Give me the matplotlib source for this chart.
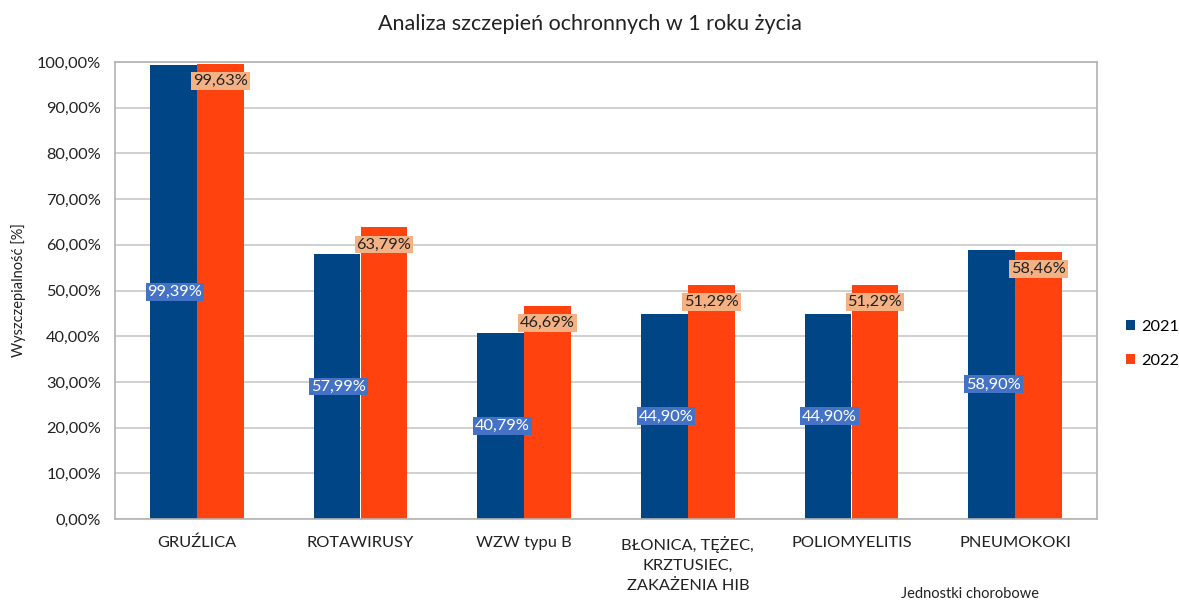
import numpy as np
import matplotlib.pyplot as plt
from matplotlib.ticker import FuncFormatter

plt.rcParams['font.family'] = ['Lato', 'DejaVu Sans']

# data
categories = ['GRUŹLICA', 'ROTAWIRUSY', 'WZW typu B',
              'BŁONICA, TĘŻEC,\nKRZTUSIEC,\nZAKAŻENIA HIB',
              'POLIOMYELITIS', 'PNEUMOKOKI']
values_2021 = [99.39, 57.99, 40.79, 44.90, 44.90, 58.90]
values_2022 = [99.63, 63.79, 46.69, 51.29, 51.29, 58.46]
years = ['2021', '2022']

blue = '#004586'
orange = '#ff420e'

fig = plt.figure(figsize=(11.79, 6.03), dpi=100)
ax = fig.add_axes([115 / 1179, 1 - 519 / 603, (1097 - 115) / 1179, (519 - 62) / 603])

x = np.arange(len(categories))
w = 0.287
ax.bar(x - w / 2, values_2021, w, color=blue, label=years[0], zorder=2)
ax.bar(x + w / 2, values_2022, w, color=orange, label=years[1], zorder=2)

def pl(v):
    return f'{v:.2f}%'.replace('.', ',')

# labels: 2021 centred in bar, 2022 just inside the top
for xi, v in zip(x - w / 2, values_2021):
    ax.text(xi + 0.01, v / 2, pl(v), ha='center', va='center', fontsize=11.8,
            color='white', zorder=3,
            bbox=dict(boxstyle='square,pad=0.12', fc='#4472c4', ec='none'))
for xi, v in zip(x + w / 2, values_2022):
    ax.annotate(pl(v), (xi, v), xytext=(0, -17), textcoords='offset pixels',
                ha='center', va='center', fontsize=11.8, color='#222222', zorder=3,
                bbox=dict(boxstyle='square,pad=0.12', fc='#f4b183', ec='none'))

ax.set_xlim(-0.5, len(categories) - 0.5)
ax.set_ylim(0, 100)
ax.set_yticks(np.arange(0, 101, 10))
ax.yaxis.set_major_formatter(FuncFormatter(lambda v, p: pl(v)))
ax.set_xticks(x)
ax.set_xticklabels(categories, fontsize=11.8, color='#222222', linespacing=1.55, va='top')
ax.tick_params(axis='both', length=0, labelsize=11.8, labelcolor='#222222')
ax.tick_params(axis='x', pad=12)
ax.tick_params(axis='y', pad=10)
ax.grid(axis='y', color='#c8c8c8', linewidth=1.2, zorder=0)
for s in ax.spines.values():
    s.set_color('#b3b3b3')
    s.set_linewidth(1.2)

ax.set_ylabel('Wyszczepialność [%]', fontsize=10.5, color='#222222', labelpad=8)
fig.text(970 / 1179, 1 - 594 / 603, 'Jednostki chorobowe', ha='center', va='center',
         fontsize=10.5, color='#222222')
fig.text(590 / 1179, 1 - 24 / 603, 'Analiza szczepień ochronnych w 1 roku życia',
         ha='center', va='center', fontsize=15.5, color='#222222')

ax.legend(loc='center left', bbox_to_anchor=(1.0295, 0.383), frameon=False,
          fontsize=11.8, handlelength=0.55, handleheight=0.55, labelspacing=1.2,
          handletextpad=0.37, borderaxespad=0, borderpad=0)

fig.savefig('out.png', dpi=100)
